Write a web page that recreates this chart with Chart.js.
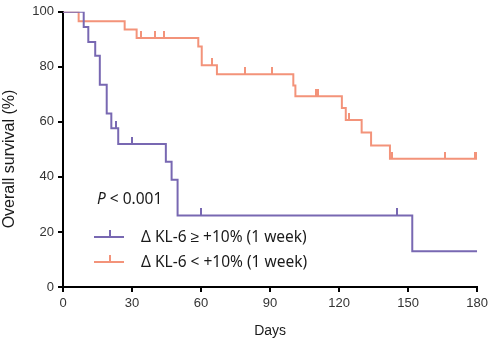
<!DOCTYPE html>
<html>
<head>
<meta charset="utf-8">
<script src="https://cdn.jsdelivr.net/npm/chart.js@4.4.1/dist/chart.umd.min.js"></script>
<style>
  html, body { margin: 0; padding: 0; background: #fff; }
  #wrap { width: 492px; height: 344px; }
</style>
</head>
<body>
<div id="wrap"><canvas id="km"></canvas></div>
<script>
// Kaplan-Meier data (days, survival %)
const highTimes = [0, 9, 11, 14, 16, 19, 21, 24, 44.7, 47.2, 49.8, 151.8, 180];
const highSurv = [100, 94.5, 89, 84, 73.5, 63, 57.7, 52, 45.5, 39, 26, 13, 13];
const highCensored = [23.1, 30, 60, 145.1];

const lowTimes = [0, 6.8, 26.8, 32, 58.8, 60.3, 66.9, 100.1, 101, 121.2, 122.9, 129.8, 133.9, 142.1, 180];
const lowSurv = [100, 96.6, 93.6, 90.5, 87.4, 80.6, 77.3, 73.2, 69.3, 65, 60.7, 56.1, 51.4, 46.6, 46.6];
const lowCensored = [33.9, 40.1, 44.1, 64.9, 79.1, 91, 109.9, 110.8, 124.1, 142.8, 165.9, 178.9, 179.7];

const xTicks = [0, 30, 60, 90, 120, 150, 180];
const yTicks = [0, 20, 40, 60, 80, 100];

const legendLabels = ['\u0394 KL-6 \u2265 +10% (1 week)', '\u0394 KL-6 < +10% (1 week)'];
const pText = '< 0.001';

const purple = '#7868b2';
const orange = '#f3937a';

// survival at time t (step function)
function survAt(times, surv, t) {
  let s = surv[0];
  for (let i = 0; i < times.length; i++) {
    if (times[i] <= t) s = surv[i];
  }
  return s;
}

function toPoints(times, surv) {
  return times.map((t, i) => ({ x: t, y: surv[i] }));
}

function censorPoints(times, surv, cens) {
  return cens.map(t => ({ x: t, y: survAt(times, surv, t) }));
}

// small upward tick used as the censor mark
function tickMark(color) {
  const c = document.createElement('canvas');
  c.width = 2;
  c.height = 14;
  const g = c.getContext('2d');
  g.fillStyle = color;
  g.fillRect(0, 0, 2, 7);
  return c;
}

const tickHigh = tickMark(purple);
const tickLow = tickMark(orange);

const extraText = {
  id: 'extraText',
  afterDraw(chart) {
    const ctx = chart.ctx;
    const area = chart.chartArea;
    ctx.save();

    // axis titles
    ctx.fillStyle = '#1a1a1a';
    ctx.textAlign = 'center';
    ctx.textBaseline = 'middle';
    ctx.font = '14px "Liberation Sans", Arial, sans-serif';
    ctx.fillText('Days', (area.left + area.right) / 2, 331);

    ctx.save();
    ctx.translate(10, 159);
    ctx.rotate(-Math.PI / 2);
    ctx.font = '16px "Liberation Sans", Arial, sans-serif';
    ctx.fillText('Overall survival (%)', 0, 0);
    ctx.restore();

    // p value
    ctx.textAlign = 'left';
    ctx.font = 'italic 15.5px "Noto Sans", sans-serif';
    ctx.fillText('P', 97, 200);
    const pw = ctx.measureText('P ').width;
    ctx.font = '15.5px "Noto Sans", sans-serif';
    ctx.fillText(pText, 97 + pw, 200);

    // legend
    const rows = [
      { y: 237, color: purple, mark: tickHigh, label: legendLabels[0] },
      { y: 262, color: orange, mark: tickLow, label: legendLabels[1] }
    ];
    rows.forEach(r => {
      ctx.strokeStyle = r.color;
      ctx.lineWidth = 2;
      ctx.beginPath();
      ctx.moveTo(94, r.y);
      ctx.lineTo(124, r.y);
      ctx.stroke();
      ctx.drawImage(r.mark, 109, r.y - 7);
      ctx.fillStyle = '#1a1a1a';
      ctx.font = '15.5px "Noto Sans", sans-serif';
      ctx.fillText(r.label, 141, r.y + 1);
    });

    ctx.restore();
  }
};

const config = {
  type: 'scatter',
  data: {
    datasets: [
      {
        label: legendLabels[0],
        data: toPoints(highTimes, highSurv),
        showLine: true,
        stepped: 'before',
        borderColor: purple,
        borderWidth: 2,
        pointRadius: 0,
        fill: false
      }, {
        label: legendLabels[1],
        data: toPoints(lowTimes, lowSurv),
        showLine: true,
        stepped: 'before',
        borderColor: orange,
        borderWidth: 2,
        pointRadius: 0,
        fill: false
      }, {
        label: 'censored high',
        data: censorPoints(highTimes, highSurv, highCensored),
        pointStyle: tickHigh,
        showLine: false
      }, {
        label: 'censored low',
        data: censorPoints(lowTimes, lowSurv, lowCensored),
        pointStyle: tickLow,
        showLine: false
      }
    ]
  },
  options: {
    responsive: true,
    maintainAspectRatio: false,
    animation: false,
    events: [],
    layout: {
      padding: { left: 0, right: 13, top: 7, bottom: 0 }
    },
    plugins: {
      legend: { display: false },
      tooltip: { enabled: false }
    },
    scales: {
      x: {
        type: 'linear',
        min: 0,
        max: 180,
        afterBuildTicks: (s) => { s.ticks = xTicks.map(v => ({ value: v })); },
        afterFit: (s) => { s.height = 57; },
        border: { display: true, color: '#000', width: 2 },
        grid: {
          drawOnChartArea: false,
          drawTicks: true,
          tickLength: 5,
          tickColor: '#000',
          lineWidth: 2
        },
        ticks: {
          padding: 4,
          color: '#333',
          font: { family: '"Liberation Sans", Arial, sans-serif', size: 13 }
        }
      },
      y: {
        type: 'linear',
        min: 0,
        max: 100,
        afterBuildTicks: (s) => { s.ticks = yTicks.map(v => ({ value: v })); },
        afterFit: (s) => { s.width = 63; },
        border: { display: true, color: '#000', width: 2 },
        grid: {
          drawOnChartArea: false,
          drawTicks: true,
          tickLength: 5,
          tickColor: '#000',
          lineWidth: 2
        },
        ticks: {
          padding: 4,
          color: '#333',
          font: { family: '"Liberation Sans", Arial, sans-serif', size: 13 }
        }
      }
    }
  },
  plugins: [extraText]
};

const kmChart = new Chart(document.getElementById('km'), config);
</script>
</body>
</html>
